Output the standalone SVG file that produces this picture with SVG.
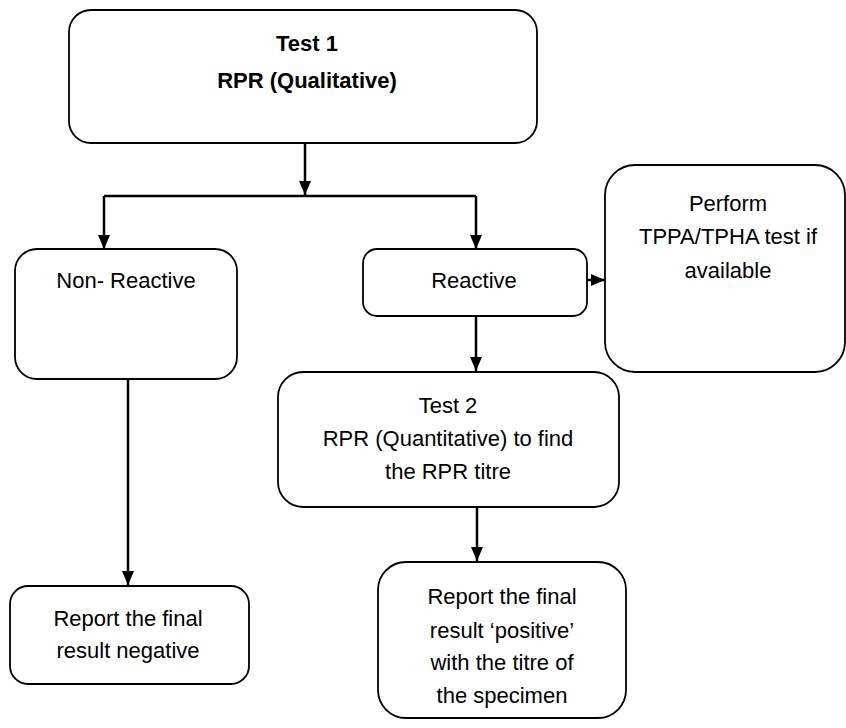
<svg xmlns="http://www.w3.org/2000/svg" width="846" height="728" viewBox="0 0 846 728">
<style>
.box{fill:#fff;stroke:#000;stroke-width:1.8}
.t{font-family:"Liberation Sans",Arial,sans-serif;font-size:22px;text-anchor:middle;fill:#000}
.b{font-weight:bold}
.c{stroke:#000;stroke-width:2.5;fill:none}
</style>
<defs>
<marker id="ah2" markerWidth="14" markerHeight="12" refX="14" refY="6" orient="auto" markerUnits="userSpaceOnUse" viewBox="0 0 14 12">
<path d="M0,0 L14,6 L0,12 Z" fill="#000"/>
</marker>
</defs>
<g id="connectors">
<path class="c" d="M305,143 V195" marker-end="url(#ah2)"/>
<path class="c" d="M104,196 H476"/>
<path class="c" d="M104,196 V249" marker-end="url(#ah2)"/>
<path class="c" d="M476,196 V249" marker-end="url(#ah2)"/>
<path class="c" d="M550,280 H605" marker-end="url(#ah2)"/>
<path class="c" d="M476,316 V371" marker-end="url(#ah2)"/>
<path class="c" d="M128,379 V585" marker-end="url(#ah2)"/>
<path class="c" d="M477,507 V561" marker-end="url(#ah2)"/>
</g>
<g id="test1">
<rect class="box" x="69" y="10" width="468" height="133" rx="22"/>
<text class="t b" x="307" y="51">Test 1</text>
<text class="t b" x="307" y="88">RPR (Qualitative)</text>
</g>
<g id="nonreactive">
<rect class="box" x="15" y="249" width="222" height="130" rx="22"/>
<text class="t" x="126" y="288">Non- Reactive</text>
</g>
<g id="reactive">
<rect class="box" x="363" y="249" width="224" height="67" rx="14"/>
<text class="t" x="474" y="288">Reactive</text>
</g>
<g id="perform">
<rect class="box" x="605" y="165" width="240" height="207" rx="30"/>
<text class="t" x="728" y="211">Perform</text>
<text class="t" x="728" y="244">TPPA/TPHA test if</text>
<text class="t" x="728" y="278">available</text>
</g>
<g id="test2">
<rect class="box" x="278" y="372" width="341" height="135" rx="25"/>
<text class="t" x="448" y="413">Test 2</text>
<text class="t" x="448" y="446">RPR (Quantitative) to find</text>
<text class="t" x="448" y="479">the RPR titre</text>
</g>
<g id="negative">
<rect class="box" x="10" y="586" width="239" height="98" rx="18"/>
<text class="t" x="128" y="626">Report the final</text>
<text class="t" x="128" y="658">result negative</text>
</g>
<g id="positive">
<rect class="box" x="378" y="562" width="248" height="156" rx="28"/>
<text class="t" x="502" y="604">Report the final</text>
<text class="t" x="502" y="638">result ‘positive’</text>
<text class="t" x="502" y="670">with the titre of</text>
<text class="t" x="502" y="703">the specimen</text>
</g>
</svg>
